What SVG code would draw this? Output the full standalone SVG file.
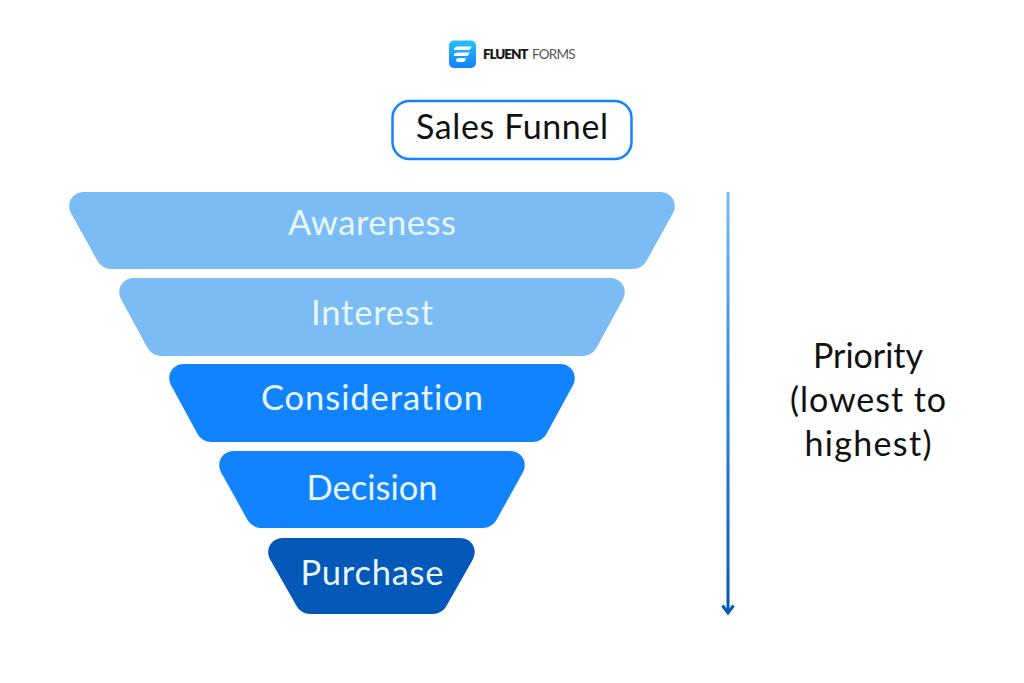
<svg xmlns="http://www.w3.org/2000/svg" width="1024" height="683" viewBox="0 0 1024 683">
<style>
.t{font-family:"Lato","Liberation Sans",sans-serif;text-anchor:middle;font-variant-ligatures:none}
.w{fill:#e8f6ff;font-size:34.500px}
.k{fill:#111;font-size:34px}
.l1{fill:#7bbcf5}.l2{fill:#1283ff}.l3{fill:#0458b7}
</style>
<defs>
<linearGradient id="ar" x1="0" y1="0" x2="0" y2="1"><stop offset="0" stop-color="#7bbcf5"/><stop offset=".5" stop-color="#2a82e0"/><stop offset="1" stop-color="#0458b7"/></linearGradient>
<linearGradient id="lg" x1="0" y1="0" x2="0" y2="1"><stop offset="0" stop-color="#26c0ff"/><stop offset="1" stop-color="#1283ff"/></linearGradient>
</defs>
<rect width="1024" height="683" fill="#fff"/>
<g id="logo">
<rect x="449" y="40.500" width="27" height="27.500" rx="5" fill="url(#lg)"/>
<path d="M454 48.500Q455 46.500 458 46.500H471.500L470.500 49Q470 50 468 50H454Z M454 54Q455 52.500 458 52.500H469.500L468.500 55Q468 56 466 56H454Z M456 59.500Q457 58 459 58H466L465 61Q464 62 462 62H458Q456 62 456 59.500Z" fill="#fff"/>
<text x="483" y="59" font-family="'Lato','Liberation Sans',sans-serif" font-size="13.500" font-weight="800" fill="#1a1a1a" textLength="45.500">FLUENT</text>
<text x="532" y="59" font-family="'Lato','Liberation Sans',sans-serif" font-size="13.500" fill="#555" textLength="43.500">FORMS</text>
</g>
<g id="title">
<rect x="392.500" y="101" width="239" height="58" rx="17" fill="#fff" stroke="#1283ff" stroke-width="2.500"/>
<text class="t k" x="512" y="139" textLength="192">Sales Funnel</text>
</g>
<g id="awareness">
<path class="l1" d="M84 192H660C672 192 679 204 672 215L647 260C644 266 638 269 633 269H111C106 269 100 266 97 260L72 215C65 204 72 192 84 192Z"/>
<text class="t w" x="372" y="235" textLength="168">Awareness</text>
</g>
<g id="interest">
<path class="l1" d="M134 278H610C622 278 629 290 622 301L597 347C594 353 588 356 583 356H161C156 356 150 353 147 347L122 301C115 290 122 278 134 278Z"/>
<text class="t w" x="372" y="325" textLength="122">Interest</text>
</g>
<g id="consideration">
<path class="l2" d="M184 364H560C572 364 579 376 572 387L547 433C544 439 538 442 533 442H211C206 442 200 439 197 433L172 387C165 376 172 364 184 364Z"/>
<text class="t w" x="372" y="410" textLength="222">Consideration</text>
</g>
<g id="decision">
<path class="l2" d="M234 451H510C522 451 529 463 522 474L497 519C494 525 488 528 483 528H261C256 528 250 525 247 519L222 474C215 463 222 451 234 451Z"/>
<text class="t w" x="372" y="500" textLength="131">Decision</text>
</g>
<g id="purchase">
<path class="l3" d="M283 538H460C472 538 479 550 472 561L447 605C444 611 438 614 433 614H310C305 614 299 611 296 605L271 561C264 550 271 538 283 538Z"/>
<text class="t w" x="372" y="585" textLength="143">Purchase</text>
</g>
<g id="connectors">
<rect x="726.500" y="192" width="3" height="421" fill="url(#ar)"/>
<path d="M722.500 605.500L728 613L733.500 605.500" fill="none" stroke="#0458b7" stroke-width="3"/>
</g>
<g id="priority">
<text class="t k" x="868" y="368" textLength="110">Priority</text>
<text class="t k" x="868" y="412" textLength="156">(lowest to</text>
<text class="t k" x="868" y="456" textLength="127">highest)</text>
</g>
</svg>
